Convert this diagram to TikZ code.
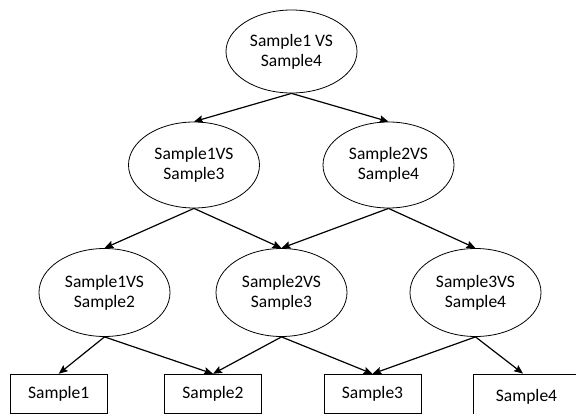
\documentclass[tikz,border=0pt]{standalone}
\usepackage{fontspec}
\setmainfont{Carlito}
\usetikzlibrary{shapes.geometric,arrows.meta}
\begin{document}
\begin{tikzpicture}[x=1pt,y=-1pt,
  ell/.style={draw,ellipse,line width=0.8pt,minimum width=131pt,inner sep=0pt,align=center,font=\fontsize{17.5}{20}\selectfont},
  box/.style={draw,rectangle,line width=0.8pt,minimum width=97pt,minimum height=39pt,inner sep=0pt,font=\fontsize{17.5}{20}\selectfont},
  arr/.style={-{Stealth[length=9pt,width=7.5pt,inset=1.5pt]},line width=1.2pt}]
\useasboundingbox (0,0) rectangle (576,414);
\clip (0,0) rectangle (576,414);
\node[ell,minimum height=83pt] (top) at (291.5,51.5) {Sample1 VS\\Sample4};
\node[ell,minimum height=86pt] (l2a) at (194,165) {Sample1VS\\Sample3};
\node[ell,minimum height=86pt] (l2b) at (388.5,165) {Sample2VS\\Sample4};
\node[ell,minimum height=88pt] (l3a) at (104.5,292.5) {Sample1VS\\Sample2};
\node[ell,minimum height=88pt] (l3b) at (281.5,292.5) {Sample2VS\\Sample3};
\node[ell,minimum height=88pt] (l3c) at (475.5,292.5) {Sample3VS\\Sample4};
\node[box] (s1) at (58.7,393.7) {Sample1};
\node[box] (s2) at (213,393.7) {Sample2};
\node[box] (s3) at (372.5,393.7) {Sample3};
\node[box,minimum width=107pt,minimum height=46pt] (s4) at (526.5,397) {Sample4\hspace{8pt}};
\draw[arr] (top.south) -- (l2a.north);
\draw[arr] (top.south) -- (l2b.north);
\draw[arr] (l2a.south) -- (l3a.north);
\draw[arr] (l2a.south) -- (l3b.north);
\draw[arr] (l2b.south) -- (l3b.north);
\draw[arr] (l2b.south) -- (l3c.north);
\draw[arr] (l3a.south) -- (s1.north);
\draw[arr] (l3a.south) -- (s2.north);
\draw[arr] (l3b.south) -- (s2.north);
\draw[arr] (l3b.south) -- (s3.north);
\draw[arr] (l3c.south) -- (s3.north);
\draw[arr] (l3c.south) -- (s4.north -| 523,0);
\end{tikzpicture}
\end{document}
